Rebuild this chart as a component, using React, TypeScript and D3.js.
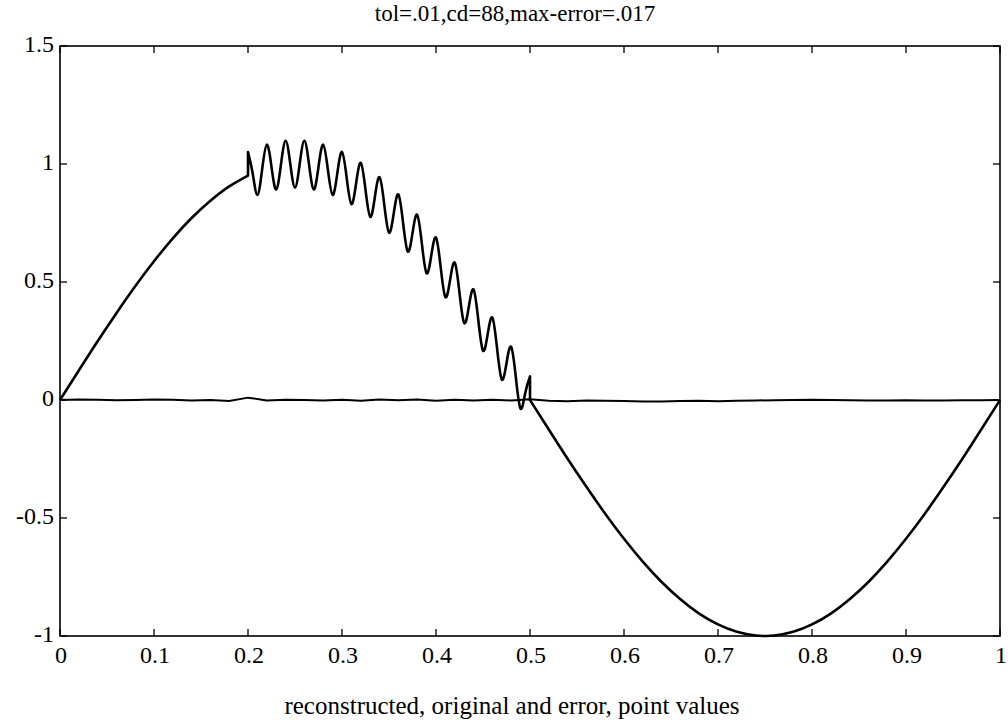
import React from "react";
import * as d3 from "d3";

// Reconstructed curve, segment before the oscillation (x step 0.02)
const segAx = [0, 0.02, 0.04, 0.06, 0.08, 0.1, 0.12, 0.14, 0.16, 0.18, 0.2];
const segAy = [0, 0.125, 0.249, 0.368, 0.482, 0.588, 0.685, 0.771, 0.844, 0.905, 0.951];

// Oscillating segment 0.2 .. 0.5 (x step 0.005)
const segBx0 = 0.2;
const segBstep = 0.005;
const segBy = [
  1.051, 0.96, 0.869, 0.976, 1.082, 0.988, 0.892, 0.996, 1.098, 1.0,
  0.9, 1.0, 1.098, 0.996, 0.892, 0.988, 1.082, 0.976, 0.869, 0.96,
  1.051, 0.941, 0.83, 0.918, 1.005, 0.891, 0.776, 0.861, 0.944, 0.827,
  0.709, 0.79, 0.871, 0.75, 0.629, 0.707, 0.785, 0.661, 0.537, 0.613,
  0.688, 0.562, 0.436, 0.509, 0.582, 0.454, 0.326, 0.397, 0.468, 0.339,
  0.209, 0.279, 0.349, 0.218, 0.087, 0.156, 0.225, 0.094, -0.037, 0.031,
  0.1,
];

// Segment after the oscillation
const segCx = [0.5, 0.52, 0.54, 0.56, 0.58, 0.6, 0.62, 0.64, 0.66, 0.68, 0.7, 0.72, 0.74, 0.75, 0.76, 0.78, 0.8, 0.82, 0.84, 0.86, 0.88, 0.9, 0.92, 0.94, 0.96, 0.98, 1.0];
const segCy = [0, -0.125, -0.249, -0.368, -0.482, -0.588, -0.685, -0.771, -0.844, -0.905, -0.951, -0.982, -0.998, -1.0, -0.998, -0.982, -0.951, -0.905, -0.844, -0.771, -0.685, -0.588, -0.482, -0.368, -0.249, -0.125, 0];

// Error curve (x step 0.02)
const errStep = 0.02;
const errY = [
  0, 0.002, 0.001, -0.001, 0.0, 0.002, 0.001, -0.002, 0.0, -0.004,
  0.01, -0.002, 0.001, 0.0, -0.002, 0.001, -0.003, 0.002, -0.001, 0.002,
  -0.003, 0.001, -0.002, 0.001, -0.002, 0.003, -0.003, -0.005, -0.002, -0.003,
  -0.004, -0.006, -0.006, -0.004, -0.003, -0.005, -0.003, -0.002, -0.001, 0.0,
  0.001, 0.0, -0.001, -0.002, -0.002, -0.001, -0.002, -0.002, -0.001, -0.001,
  0,
];

const xTicks = [0, 0.1, 0.2, 0.3, 0.4, 0.5, 0.6, 0.7, 0.8, 0.9, 1];
const xTickLabels = ["0", "0.1", "0.2", "0.3", "0.4", "0.5", "0.6", "0.7", "0.8", "0.9", "1"];
const yTicks = [-1, -0.5, 0, 0.5, 1, 1.5];
const yTickLabels = ["-1", "-0.5", "0", "0.5", "1", "1.5"];

const title = "tol=.01,cd=88,max-error=.017";
const xLabel = "reconstructed, original and error, point values";

const W = 1008;
const H = 723;
const L = 60, R = 1000, T = 46, B = 636;

export default function App() {
  const x = d3.scaleLinear().domain([0, 1]).range([L, R]);
  const y = d3.scaleLinear().domain([-1, 1.5]).range([B, T]);
  const line = d3
    .line<[number, number]>()
    .x((d) => x(d[0]))
    .y((d) => y(d[1]))
    .curve(d3.curveNatural);

  const a = segAx.map((v, i) => [v, segAy[i]] as [number, number]);
  const b = segBy.map((v, i) => [segBx0 + i * segBstep, v] as [number, number]);
  const c = segCx.map((v, i) => [v, segCy[i]] as [number, number]);
  const pathMain =
    (line(a) || "") +
    (line(b) || "").replace(/^M/, "L") +
    (line(c) || "").replace(/^M/, "L");

  const errLine = d3
    .line<[number, number]>()
    .x((d) => x(d[0]))
    .y((d) => y(d[1]))
    .curve(d3.curveLinear);
  const e = errY.map((v, i) => [i * errStep, v] as [number, number]);

  const font = "Liberation Serif, Times New Roman, serif";
  const tickLen = 7;

  return (
    <svg width={W} height={H} style={{ position: "absolute", left: 0, top: 0, background: "#fff" }}>
      <rect x={0} y={0} width={W} height={H} fill="#fff" />
      <rect x={L} y={T} width={R - L} height={B - T} fill="none" stroke="#000" strokeWidth={1.6} />
      {xTicks.map((t, i) => (
        <g key={"xt" + i}>
          <line x1={x(t)} x2={x(t)} y1={B} y2={B - tickLen} stroke="#000" strokeWidth={1.3} />
          <line x1={x(t)} x2={x(t)} y1={T} y2={T + tickLen} stroke="#000" strokeWidth={1.3} />
          <text x={x(t) + 1} y={B + 27} textAnchor="middle" fontFamily={font} fontSize={24}>
            {xTickLabels[i]}
          </text>
        </g>
      ))}
      {yTicks.map((t, i) => (
        <g key={"yt" + i}>
          <line x1={L} x2={L + tickLen} y1={y(t)} y2={y(t)} stroke="#000" strokeWidth={1.3} />
          <line x1={R} x2={R - tickLen} y1={y(t)} y2={y(t)} stroke="#000" strokeWidth={1.3} />
          <text x={L - 6} y={y(t) + 6} textAnchor="end" fontFamily={font} fontSize={24}>
            {yTickLabels[i]}
          </text>
        </g>
      ))}
      <path d={errLine(e) || ""} fill="none" stroke="#000" strokeWidth={2} />
      <path d={pathMain} fill="none" stroke="#000" strokeWidth={2.6} strokeLinejoin="round" />
      <text x={515} y={21} textAnchor="middle" fontFamily={font} fontSize={23}>
        {title}
      </text>
      <text x={512} y={714} textAnchor="middle" fontFamily={font} fontSize={25}>
        {xLabel}
      </text>
    </svg>
  );
}
